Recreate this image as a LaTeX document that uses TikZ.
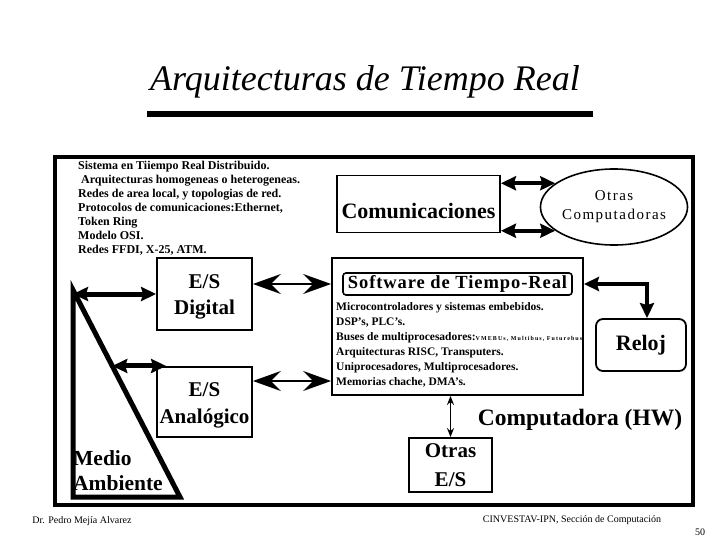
\documentclass[tikz,border=0pt]{standalone}
\usepackage{fontspec}
\setmainfont{Liberation Serif}
\usetikzlibrary{arrows.meta,shapes.geometric,calc}
\begin{document}
\begin{tikzpicture}[x=1pt,y=-1pt,
  box/.style={draw,line width=1.8pt,inner sep=0pt,align=center},
  hvy/.style={line width=4pt,{Stealth[length=15pt,width=14pt,inset=2pt]}-{Stealth[length=15pt,width=14pt,inset=2pt]}},
  bigdbl/.style={line width=2.5pt,{Stealth[length=28pt,width=20pt,inset=10pt]}-{Stealth[length=28pt,width=20pt,inset=10pt]}},
  thinarr/.style={line width=1.8pt,{Stealth[length=9pt,width=7pt]}-{Stealth[length=9pt,width=7pt]}},
  small/.style={font=\fontsize{10}{11}\selectfont,inner sep=0pt},
  boxtext/.style={font=\bfseries\fontsize{21}{27}\selectfont,inner sep=0pt,align=center,anchor=north}
]
\useasboundingbox (0,0) rectangle (720,540);
\fill[white] (0,0) rectangle (720,540);

% title and rule
\node[font=\itshape\fontsize{36}{40}\selectfont, anchor=base, inner sep=0] (title) at (365,91) {Arquitecturas de Tiempo Real};
\coordinate (r1) at (147,114);
\coordinate (r2) at (593,114);
\draw[line width=6pt] (r1) -- (r2);

% outer box
\node[draw,line width=3.5pt,minimum width=638pt,minimum height=348pt,inner sep=0pt] (hw) at (374,331) {};

% top-left text
\node[anchor=north west, inner sep=0pt, align=left, font=\bfseries\fontsize{12}{14}\selectfont] (dist) at (78,161)
{Sistema en Tiiempo Real Distribuido.\\
\ Arquitecturas homogeneas o heterogeneas.\\
Redes de area local, y topologias de red.\\
Protocolos de comunicaciones:Ethernet,\\
Token Ring\\
Modelo OSI.\\
Redes FFDI, X-25, ATM.};

% comunicaciones
\node[box, minimum width=163pt, minimum height=57pt, font=\bfseries\fontsize{22}{26}\selectfont] (comm) at (418.5,204) {\rule{0pt}{29pt}Comunicaciones};
\node[draw, ellipse, line width=1.6pt, minimum width=120pt, minimum height=76pt, inner sep=0pt, align=center,
      font=\fontsize{15}{19}\selectfont\addfontfeature{LetterSpace=10}] (oc) at (614,207) {Otras\\Computadoras};
\draw[hvy] (comm.east |- oc.158) -- (oc.158);
\draw[hvy] (comm.east |- oc.202) -- (oc.202);

% software box
\node[draw, line width=1.8pt, minimum width=251pt, minimum height=137pt, inner sep=0pt] (sw) at (457.5,326.5) {};
\node[draw, rounded corners=3pt, line width=1.6pt, minimum width=229pt, minimum height=22pt, inner sep=0pt,
      font=\bfseries\fontsize{18.5}{20}\selectfont\addfontfeature{LetterSpace=5}] (swt) at (457.5,284) {Software de Tiempo-Real};
\node[anchor=north west, inner sep=0pt, align=left, font=\bfseries\fontsize{11.5}{15}\selectfont] (swl) at (336,302)
{Microcontroladores y sistemas embebidos.\\
DSP's, PLC's.\\
Buses de multiprocesadores:{\fontsize{6}{7}\selectfont\addfontfeature{LetterSpace=18}VMEBUs, Multibus, Futurebus}\\
Arquitecturas RISC, Transputers.\\
Uniprocesadores, Multiprocesadores.\\
Memorias chache, DMA's.};

% reloj
\node[box, rounded corners=7pt, minimum width=90pt, minimum height=52pt, font=\bfseries\fontsize{22}{26}\selectfont] (reloj) at (641,345) {Reloj};
\draw[hvy, line width=4.5pt] (sw.east |- swt.east) -| ([xshift=6pt]reloj.north);

% E/S boxes
\node[box, minimum width=95pt, minimum height=72pt] (esd) at (204.5,294) {};
\node[boxtext, font=\bfseries\fontsize{21}{26}\selectfont] (esdt) at (204.5,274) {E/S\\Digital};
\node[box, minimum width=95pt, minimum height=70pt] (esa) at (204.5,402) {};
\node[boxtext] (esat) at (204.5,382) {E/S\\Anal\'ogico};
\draw[bigdbl] (esd.east |- swt.west) -- (sw.west |- swt.west);
\path ([yshift=21pt]esa.east) coordinate (pa);
\draw[bigdbl] (pa) -- (sw.west |- pa);

% medio ambiente
\coordinate (mt) at (73,290);
\coordinate (mb) at (73,497);
\coordinate (mr) at (180,497);
\draw[line width=5pt, line join=miter] (mt) -- (mb) -- (mr) -- cycle;
\node[anchor=south west, inner sep=0pt, align=left, font=\bfseries\fontsize{21.5}{25}\selectfont] (medio) at (73,491) {Medio\\Ambiente};
\draw[hvy, line width=5pt] (mt |- esd.west) -- (esd.west);
\coordinate (ma) at ($(mt)!0.367!(mr)$);
\path ([xshift=10pt]esa.north west) coordinate (ea);
\draw[hvy, line width=5pt] (ma) -- (ma -| ea);

% otras E/S
\node[box, minimum width=83pt, minimum height=54pt, font=\bfseries\fontsize{21}{29}\selectfont] (ose) at (450.5,465) {Otras\\E/S};
\draw[thinarr] (ose.north |- sw.south) -- (ose.north);

\node[font=\bfseries\fontsize{23.5}{28}\selectfont, inner sep=0pt] (hwl) at (580,420) {Computadora (HW)};

% footer
\node[small] (autor) at (82,521) {Dr. Pedro Mej\'ia Alvarez};
\node[small] (inst) at (572,520) {CINVESTAV-IPN, Secci\'on de Computaci\'on};
\node[small] (pag) at (700,532) {50};
\end{tikzpicture}
\end{document}
